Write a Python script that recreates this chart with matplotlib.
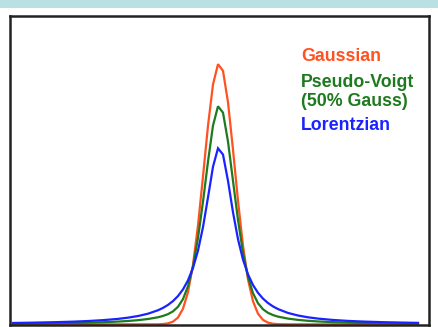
import matplotlib
matplotlib.use("Agg")
import matplotlib.pyplot as plt
from matplotlib.patches import Rectangle

plt.rcParams.update({
    "font.family": "sans-serif",
    "font.sans-serif": ["Liberation Sans", "DejaVu Sans"],
})

# channel index of each sample (peak sample at 0)
channel = [-41, -37, -33, -29, -26, -23, -20, -18, -16, -14, -12,
           -11, -10, -9, -8, -7, -6, -5, -4, -3, -2, -1, 0,
           1, 2, 3, 4, 5, 6, 7, 8, 9, 10, 11,
           12, 14, 16, 18, 20, 23, 26, 29, 33, 37, 40]

gaussian = [0.0, 0.0, 0.0, 0.0, 0.0, 0.0, 0.0, 0.0, 0.0, 0.0, 0.0,
            0.11, 0.36, 1.02, 2.60, 5.97, 12.30, 22.76, 37.88, 56.64, 76.09, 91.86, 99.64,
            97.11, 85.05, 66.93, 47.32, 30.07, 17.17, 8.81, 4.06, 1.68, 0.63, 0.21,
            0.06, 0.0, 0.0, 0.0, 0.0, 0.0, 0.0, 0.0, 0.0, 0.0, 0.0]

pseudo_voigt = [0.26, 0.31, 0.39, 0.51, 0.63, 0.79, 1.04, 1.27, 1.58, 2.03, 2.69,
                3.20, 3.89, 4.96, 6.71, 9.67, 14.57, 22.19, 33.06, 46.94, 62.35, 76.12, 83.53,
                81.07, 70.00, 54.92, 39.96, 27.43, 18.15, 11.93, 8.06, 5.76, 4.39, 3.53,
                2.94, 2.18, 1.69, 1.34, 1.09, 0.83, 0.65, 0.52, 0.41, 0.32, 0.28]

lorentzian = [0.51, 0.63, 0.79, 1.01, 1.25, 1.59, 2.07, 2.54, 3.17, 4.06, 5.38,
              6.28, 7.43, 8.90, 10.82, 13.37, 16.84, 21.62, 28.24, 37.23, 48.61, 60.37, 67.42,
              65.02, 54.94, 42.91, 32.59, 24.79, 19.13, 15.04, 12.05, 9.83, 8.15, 6.85,
              5.83, 4.35, 3.37, 2.68, 2.18, 1.66, 1.30, 1.05, 0.81, 0.65, 0.55]

C_GAUSS = "#ff5220"
C_PV = "#1e7a1e"
C_LOR = "#1a22ff"

fig = plt.figure(figsize=(4.38, 3.27), dpi=100, facecolor="white")

# pale banner along the top edge
fig.patches.append(Rectangle((0, 1 - 8 / 327), 1, 8 / 327, transform=fig.transFigure,
                             facecolor="#b9e0e3", edgecolor="none", zorder=0))

ax = fig.add_axes([10 / 438, 2 / 327, 419 / 438, 309 / 327])
ax.plot(channel, gaussian, color=C_GAUSS, lw=1.6, solid_joinstyle="miter")
ax.plot(channel, pseudo_voigt, color=C_PV, lw=1.6, solid_joinstyle="miter")
ax.plot(channel, lorentzian, color=C_LOR, lw=1.6, solid_joinstyle="miter")

ax.set_xlim(-41.6, 42.2)
ax.set_ylim(-0.27, 118.1)
ax.set_xticks([])
ax.set_yticks([])
for spine in ax.spines.values():
    spine.set_edgecolor("#222222")
    spine.set_linewidth(1.8)

font = dict(fontsize=12.8, fontweight="bold", transform=ax.transAxes, ha="left", va="baseline")
ax.text(0.694, 0.855, "Gaussian", color=C_GAUSS, **font)
ax.text(0.694, 0.771, "Pseudo-Voigt", color=C_PV, **font)
ax.text(0.694, 0.710, "(50% Gauss)", color=C_PV, **font)
ax.text(0.694, 0.631, "Lorentzian", color=C_LOR, **font)

fig.savefig("out.png", dpi=100, facecolor="white")
